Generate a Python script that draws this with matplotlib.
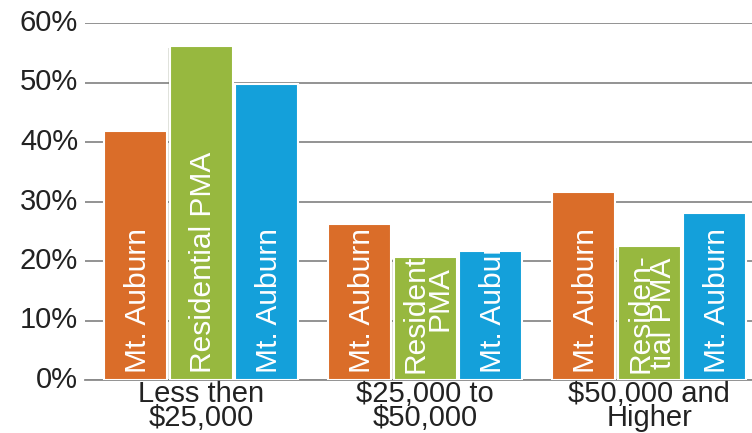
import numpy as np
import matplotlib.pyplot as plt
import matplotlib.patheffects as pe
from matplotlib.ticker import FuncFormatter

plt.rcParams['font.family'] = ['Liberation Sans', 'DejaVu Sans']

categories = ["Less then\n$25,000", "$25,000 to\n$50,000", "$50,000 and\nHigher"]
mt_auburn_a = [41.9, 26.3, 31.6]
residential_pma = [56.1, 20.6, 22.5]
mt_auburn_b = [49.7, 21.7, 28.1]

bar_labels = [
    ["Mt. Auburn", "Residential PMA", "Mt. Auburn"],
    ["Mt. Auburn", "Residential\nPMA", "Mt. Auburn"],
    ["Mt. Auburn", "Residen-\ntial PMA", "Mt. Auburn"],
]
colors = ["#DA6D29", "#97B83F", "#14A0DA"]

fig = plt.figure(figsize=(7.52, 4.33), dpi=100)
ax = fig.add_axes([85 / 752, 53 / 433, 1 - 85 / 752, 357 / 433])

x = np.arange(len(categories))
pitch = 0.292
width = 0.281
series = [mt_auburn_a, residential_pma, mt_auburn_b]

for i, vals in enumerate(series):
    bars = ax.bar(x + (i - 1) * pitch, vals, width=width, color=colors[i],
                  edgecolor="white", linewidth=1.5, zorder=3)
    for j, b in enumerate(bars):
        b.set_path_effects([pe.SimplePatchShadow(offset=(-1, -1), alpha=0.15),
                            pe.Normal()])
        # label runs up from the base and is cut off at the top of its bar
        t = ax.text(b.get_x() + b.get_width() / 2 + 0.01, 1.2, bar_labels[j][i],
                    rotation=90, ha="center", va="bottom", color="white",
                    fontsize=21.5, linespacing=0.78, zorder=4)
        t.set_clip_path(b)

ax.set_xlim(-0.518, 2.458)
ax.set_ylim(0, 60)
ax.set_yticks(np.arange(0, 61, 10))
ax.yaxis.set_major_formatter(FuncFormatter(lambda v, p: f"{v:.0f}%"))
ax.set_xticks(x)
ax.set_xticklabels(categories, linespacing=0.8)
ax.tick_params(axis="both", length=0, labelsize=21, labelcolor="#222222")
ax.tick_params(axis="y", pad=5)
ax.tick_params(axis="x", pad=0)
for lbl in ax.get_yticklabels():
    lbl.set_va("center")

ax.yaxis.grid(True, color="#8a8a8a", linewidth=1.3, zorder=0)
ax.set_axisbelow(True)
for s in ax.spines.values():
    s.set_visible(False)
ax.axhline(0, color="#8a8a8a", linewidth=1.3, zorder=2, clip_on=False)

fig.savefig("out.png", dpi=100)
